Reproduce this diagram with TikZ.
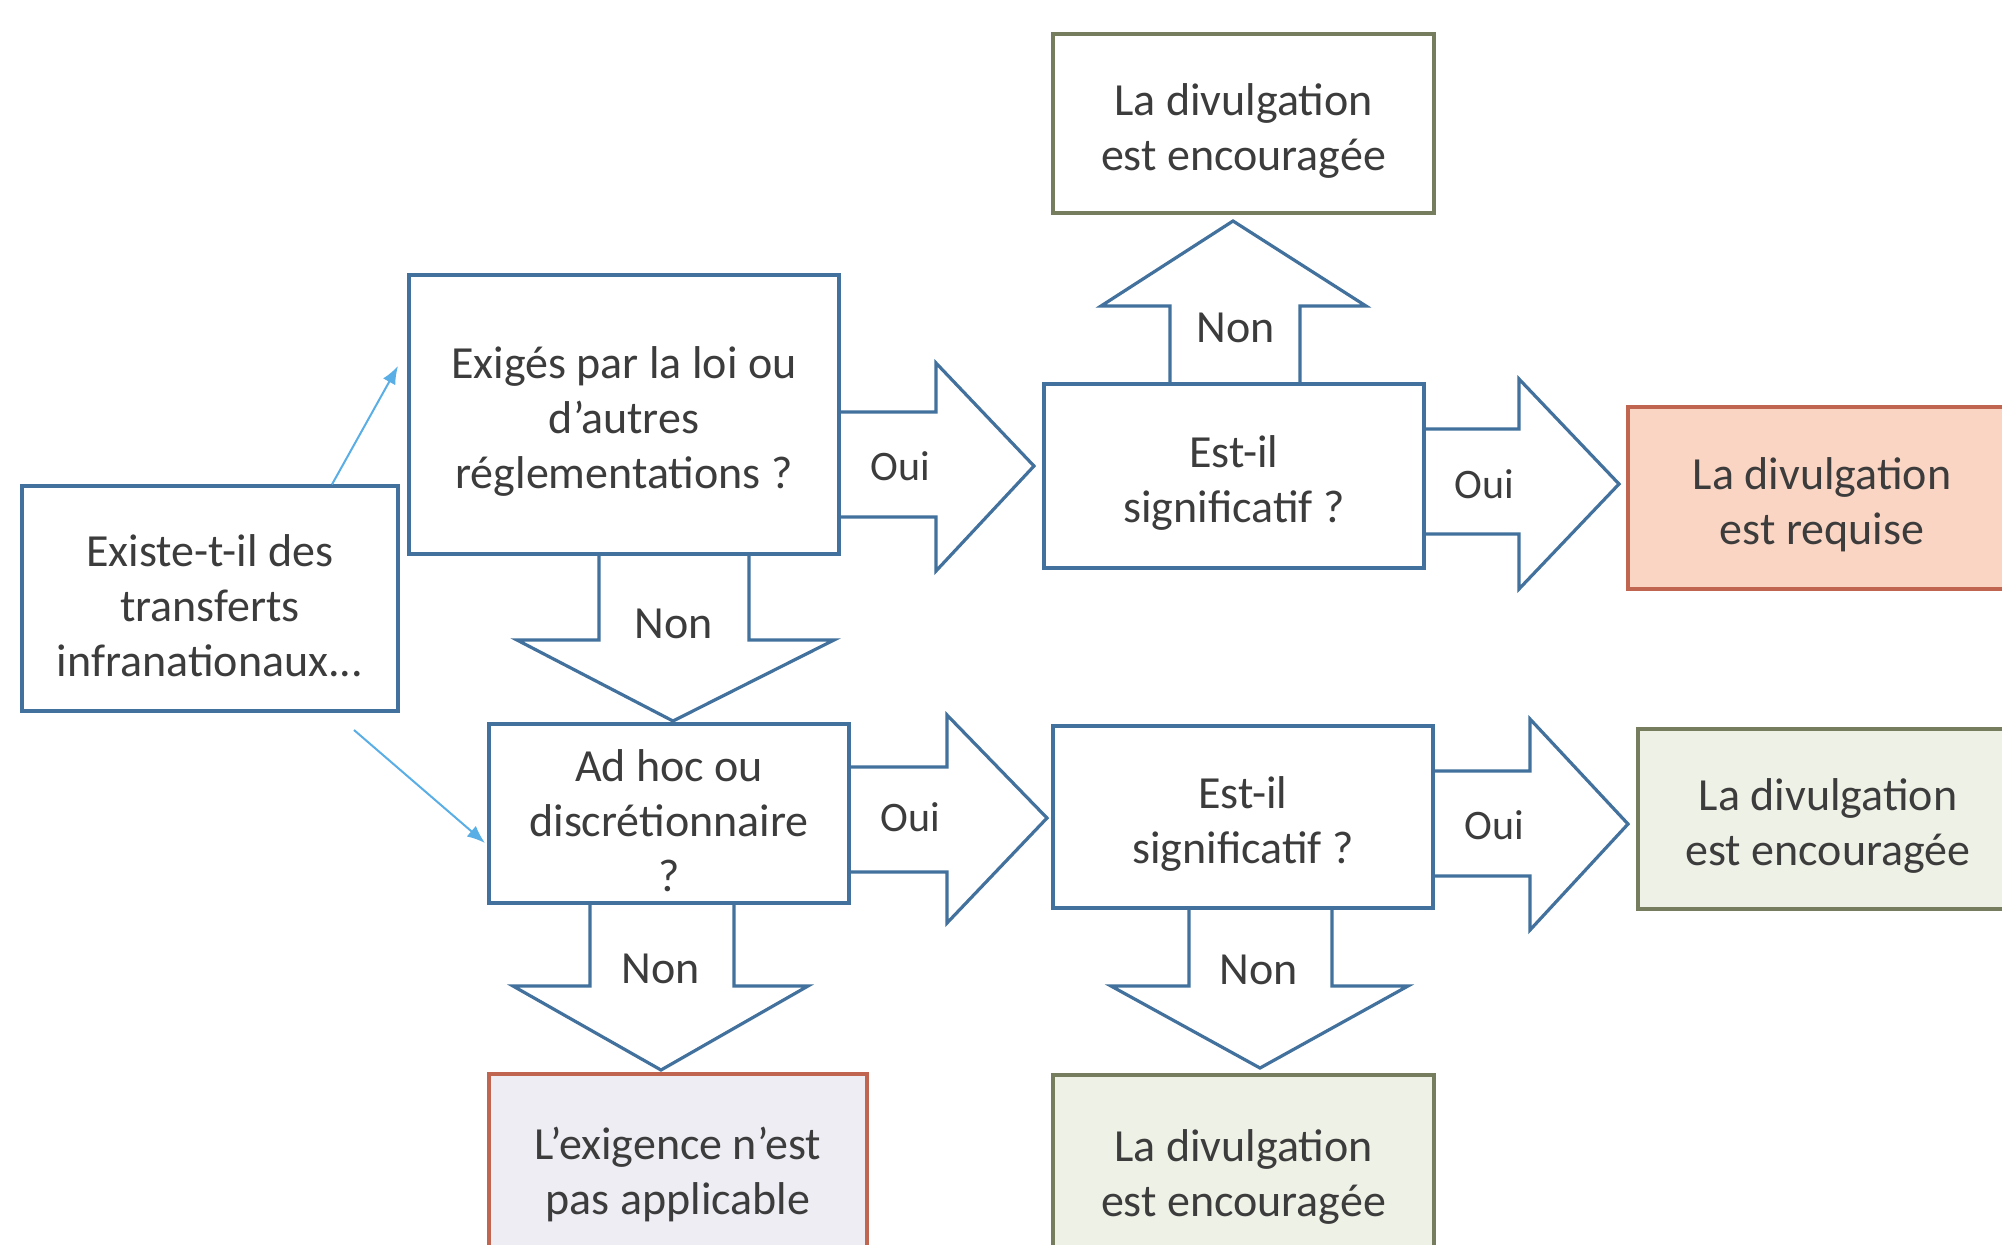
\documentclass[tikz,border=0pt]{standalone}
\usepackage{fontspec}
\setmainfont{Carlito}
\usetikzlibrary{arrows.meta,calc}
\definecolor{boxblue}{HTML}{41719C}
\definecolor{txtgray}{HTML}{3C3C3C}
\definecolor{thinblue}{HTML}{5AAEE6}
\definecolor{olive}{HTML}{767D5E}
\definecolor{olivefill}{HTML}{EEF1E6}
\definecolor{redline}{HTML}{C0654F}
\definecolor{salmon}{HTML}{FAD5C3}
\definecolor{lavfill}{HTML}{EEEDF3}
\newcommand\txtup{\rule{0pt}{23pt}}
\begin{document}
\begin{tikzpicture}[x=0.5pt,y=-0.5pt,
  qbox/.style={draw=boxblue, line width=1.6pt, fill=white, align=center, text=txtgray,
    font=\fontsize{23}{27.5}\selectfont, inner sep=0pt},
  rbox/.style={qbox},
  barrow/.style={draw=boxblue, line width=1.6pt, line join=miter},
  lbl/.style={text=txtgray, font=\fontsize{21}{25}\selectfont, inner sep=0pt},
  thinarrow/.style={draw=thinblue, line width=1pt, -{Latex[length=9pt,width=7pt]}}]
\useasboundingbox (0,0) rectangle (2002,1244);
\fill[white] (0,0) rectangle (2002,1244);

% question boxes
\node[qbox, minimum width=188pt, minimum height=112.5pt] (exist) at (210,598.5)
  {\txtup Existe-t-il des\\transferts\\infranationaux...};
\node[qbox, minimum width=215pt, minimum height=139.5pt] (exig) at (624,414.5)
  {\txtup Exigés par la loi ou\\d’autres\\réglementations ?};
\node[qbox, minimum width=180pt, minimum height=89.5pt] (adhoc) at (669,813.5)
  {\txtup Ad hoc ou\\discrétionnaire\\?};
\node[qbox, minimum width=190pt, minimum height=92pt] (sig1) at (1234,476)
  {\txtup Est-il\\significatif ?};
\node[qbox, minimum width=190pt, minimum height=91pt] (sig2) at (1243,817)
  {\txtup Est-il\\significatif ?};

% result boxes
\node[rbox, draw=olive, minimum width=190.5pt, minimum height=89.5pt] (enc1) at (1243.5,123.5)
  {\txtup La divulgation\\est encouragée};
\node[rbox, draw=redline, fill=salmon, minimum width=194pt, minimum height=91pt] (req) at (1822,498)
  {\txtup La divulgation\\est requise};
\node[rbox, draw=olive, fill=olivefill, minimum width=190pt, minimum height=90pt] (enc2) at (1828,819)
  {\txtup La divulgation\\est encouragée};
\node[rbox, draw=redline, fill=lavfill, minimum width=189pt, minimum height=94pt] (nap) at (678,1168)
  {\txtup L’exigence n’est\\pas applicable};
\node[rbox, draw=olive, fill=olivefill, minimum width=190.5pt, minimum height=95pt] (enc3) at (1243.5,1170)
  {\txtup La divulgation\\est encouragée};

% block arrows
\draw[barrow] (exig.east |- 0,412) -- (936,412) -- (936,363) -- (1034,466) -- (936,571) -- (936,517) -- (exig.east |- 0,517);
\draw[barrow] (sig1.east |- 0,429) -- (1519,429) -- (1519,379) -- (1619,484) -- (1519,589) -- (1519,534) -- (sig1.east |- 0,534);
\draw[barrow] (sig1.north -| 1170,0) -- (1170,306) -- (1101,306) -- (1233,221) -- (1366,306) -- (1300,306) -- (sig1.north -| 1300,0);
\draw[barrow] (exig.south -| 599,0) -- (599,640) -- (517,640) -- (673,721) -- (834,640) -- (749,640) -- (exig.south -| 749,0);
\draw[barrow] (adhoc.east |- 0,767) -- (947,767) -- (947,715) -- (1047,818) -- (947,923) -- (947,872) -- (adhoc.east |- 0,872);
\draw[barrow] (sig2.east |- 0,771) -- (1530,771) -- (1530,719) -- (1628,824) -- (1530,930) -- (1530,876) -- (sig2.east |- 0,876);
\draw[barrow] (adhoc.south -| 590,0) -- (590,986) -- (513,986) -- (661,1070) -- (808,986) -- (734,986) -- (adhoc.south -| 734,0);
\draw[barrow] (sig2.south -| 1189,0) -- (1189,986) -- (1111,986) -- (1260,1068) -- (1408,986) -- (1332,986) -- (sig2.south -| 1332,0);

% arrow labels
\node[lbl] (o1) at (900,466) {Oui};
\node[lbl] (o2) at (1484,484) {Oui};
\node[lbl] (o3) at (910,817) {Oui};
\node[lbl] (o4) at (1494,825) {Oui};
\node[lbl, font=\fontsize{23}{27}\selectfont] (n1) at (1236,328) {Non};
\node[lbl, font=\fontsize{23}{27}\selectfont] (n2) at (674,624) {Non};
\node[lbl, font=\fontsize{23}{27}\selectfont] (n3) at (661,969) {Non};
\node[lbl, font=\fontsize{23}{27}\selectfont] (n4) at (1259,970) {Non};

% thin blue arrows
\coordinate (t1s) at (exist.north -| 332,0);
\coordinate (t1e) at (398,366);
\draw[thinarrow] (t1s) -- (t1e);
\coordinate (t2s) at (354,730);
\coordinate (t2e) at (485,843);
\draw[thinarrow] (t2s) -- (t2e);
\end{tikzpicture}
\end{document}
